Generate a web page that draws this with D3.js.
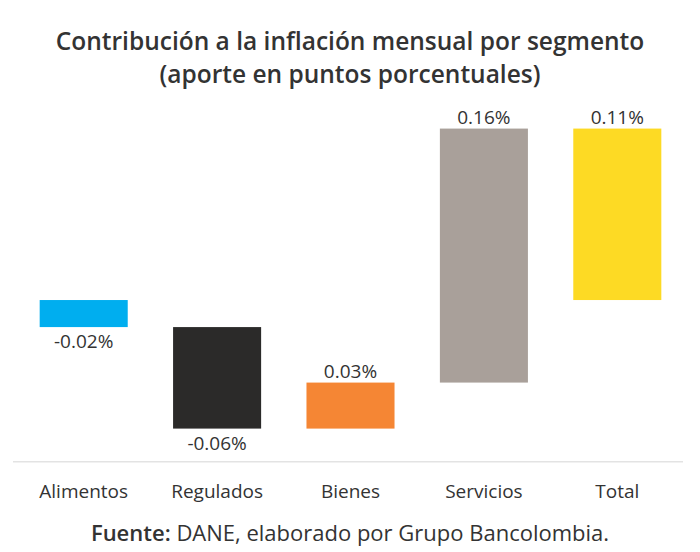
<!DOCTYPE html>
<html>
<head>
<meta charset="utf-8">
<script src="https://cdn.jsdelivr.net/npm/d3@7"></script>
<style>
  body { margin: 0; background: #fff; }
  text { font-family: "Open Sans", sans-serif; }
</style>
</head>
<body>
<div id="viz"></div>
<script>
// chart data
const categories = ['Alimentos', 'Regulados', 'Bienes', 'Servicios', 'Total'];
const contributions = [-0.0174, -0.0653, 0.0296, 0.1634, 0.1103];
const valueLabels = ['-0.02%', '-0.06%', '0.03%', '0.16%', '0.11%'];
const barColors = ['#00AEEF', '#2B2A29', '#F58634', '#A9A09A', '#FDDA24'];
const titleLines = ['Contribución a la inflación mensual por segmento', '(aporte en puntos porcentuales)'];

function createViz(){

  const dimensions = { width: 700, height: 552 }

  const wrapper = d3.select('#viz')
    .append('svg')
    .attr('width', dimensions.width)
    .attr('height', dimensions.height)

  // waterfall steps: each segment starts where the previous ended, total starts at 0
  let running = 0
  const steps = categories.map((cat, i) => {
    const isTotal = cat === 'Total'
    const start = isTotal ? 0 : running
    const end = isTotal ? contributions[i] : running + contributions[i]
    if (!isTotal) running = end
    return { cat, start, end, value: contributions[i], label: valueLabels[i], color: barColors[i] }
  })

  const xScale = d3.scaleBand()
    .domain(categories)
    .range([17, 684])
    .paddingInner(0.34)
    .paddingOuter(0.17)

  const yScale = d3.scaleLinear()
    .domain([-0.104, 0.12])
    .range([461.7, 113.5])

  // title
  wrapper.append('g')
    .selectAll('text')
    .data(titleLines)
    .join('text')
    .attr('x', 350)
    .attr('y', (d, i) => 50 + i * 33)
    .attr('text-anchor', 'middle')
    .style('font-size', '24.5px')
    .style('font-weight', 600)
    .style('fill', '#333')
    .text(d => d)

  // bars
  wrapper.append('g')
    .selectAll('rect')
    .data(steps)
    .join('rect')
    .attr('x', d => xScale(d.cat))
    .attr('width', xScale.bandwidth())
    .attr('y', d => yScale(Math.max(d.start, d.end)))
    .attr('height', d => Math.abs(yScale(d.start) - yScale(d.end)))
    .style('fill', d => d.color)

  // value labels: above for positive, below for negative
  wrapper.append('g')
    .selectAll('text')
    .data(steps)
    .join('text')
    .attr('x', d => xScale(d.cat) + xScale.bandwidth() / 2)
    .attr('y', d => d.value >= 0
      ? yScale(Math.max(d.start, d.end)) - 5
      : yScale(Math.min(d.start, d.end)) + 21)
    .attr('text-anchor', 'middle')
    .style('font-size', '19px')
    .style('fill', '#333')
    .text(d => d.label)

  // x axis
  const xAxis = wrapper.append('g')
    .attr('transform', `translate(0, ${yScale.range()[0]})`)
    .call(d3.axisBottom(xScale).tickSize(0).tickPadding(23).tickSizeOuter(0))

  xAxis.select('.domain')
    .attr('d', `M13,0H683`)
    .style('stroke', '#e3e3e3')
    .style('stroke-width', 1.5)

  xAxis.selectAll('.tick text')
    .style('font-family', '"Open Sans", sans-serif')
    .style('font-size', '19px')
    .style('fill', '#333')

  // source note
  const note = wrapper.append('text')
    .attr('x', 350)
    .attr('y', 541)
    .attr('text-anchor', 'middle')
    .style('font-size', '22px')
    .style('fill', '#333')
  note.append('tspan').style('font-weight', 600).text('Fuente:')
  note.append('tspan').text(' DANE, elaborado por Grupo Bancolombia.')
}

createViz();
</script>
</body>
</html>
